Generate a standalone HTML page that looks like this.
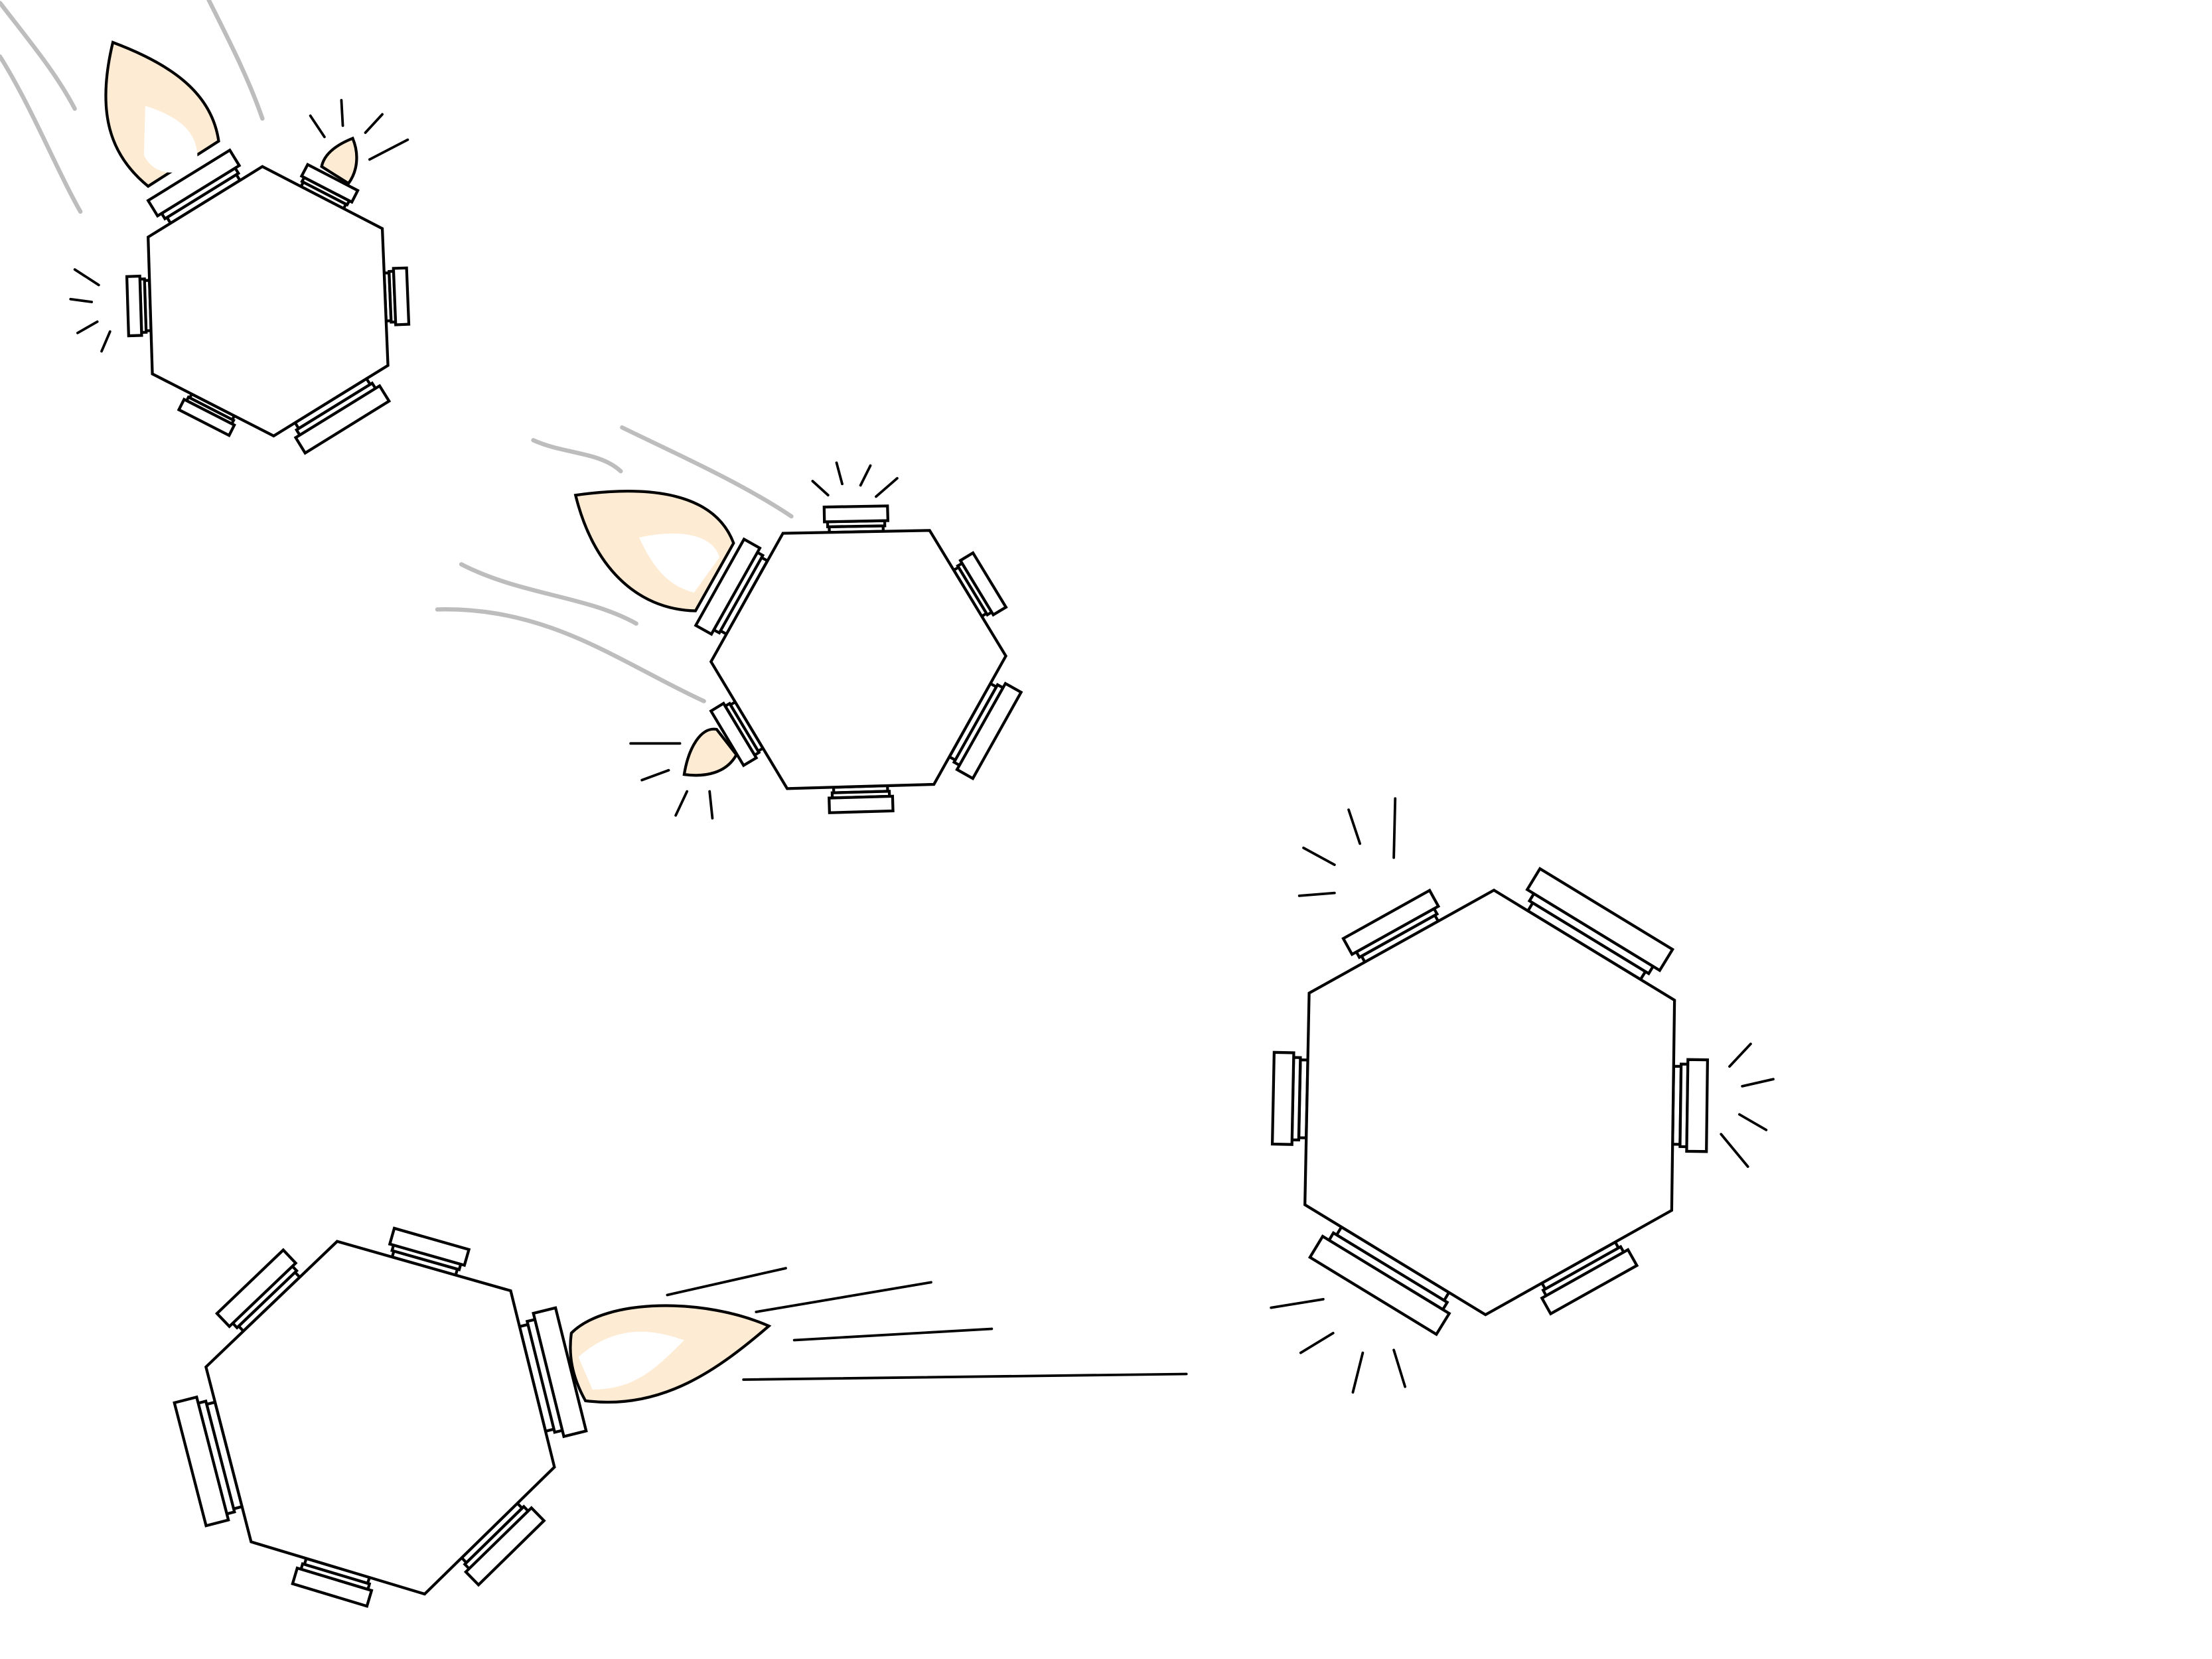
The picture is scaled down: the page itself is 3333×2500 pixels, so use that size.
<!DOCTYPE html>
<html><head><meta charset="utf-8">
<style>html,body{margin:0;padding:0;background:#fff;}svg{display:block;}</style>
</head><body>
<svg id="scene" width="3333" height="2500" viewBox="0 0 1568 1176" xmlns="http://www.w3.org/2000/svg">
<rect width="1568" height="1176" fill="#fff"/>
<g fill="none" stroke="#bdbdbd" stroke-width="3" stroke-linecap="round">
<path d="M0,2 C20,28 40,52 53,77"/>
<path d="M0,40 C22,75 40,120 57,150"/>
<path d="M148,0 C162,28 176,55 186,84"/>
<path d="M378,312 C400,322 425,320 440,334"/>
<path d="M441,303 C480,322 525,342 561,366"/>
<path d="M327,400 C370,422 415,422 451,442"/>
<path d="M310,432 C390,430 440,470 499,497"/>
</g>
<g stroke="#000" stroke-width="2">
<path fill="#fdebd3" d="M105,132 C78,110 68,80 80,30 C120,45 150,65 155,100 Z"/>
<path fill="#fff" stroke="none" d="M103,75 C125,82 140,92 140,112 C130,126 110,126 102,110 Z"/>
<path fill="#fdebd3" d="M228,118 C230,108 240,102 250,98 C255,110 253,122 247,130 Z"/>
<path fill="#fdebd3" d="M493,433 C450,432 420,400 408,351 C450,345 505,345 520,385 Z"/>
<path fill="#fff" stroke="none" d="M453,381 C480,375 505,378 510,395 L492,420 C472,415 462,400 453,381 Z"/>
<path fill="#fdebd3" d="M485,549 C488,530 497,515 508,517 L522,535 C515,548 500,551 485,549 Z"/>
<path fill="#fdebd3" d="M405,945 C430,920 500,920 545,940 C510,970 470,1000 415,993 C405,975 403,960 405,945 Z"/>
<path fill="#fff" stroke="none" d="M410,962 C440,935 470,945 485,950 C465,970 450,985 420,985 Z"/>
</g>
<g id="ships"></g>
<g stroke="#000" stroke-width="1.8" stroke-linecap="round">
<line x1="473" y1="918" x2="557" y2="899"/>
<line x1="536" y1="930" x2="660" y2="909"/>
<line x1="563" y1="950" x2="703" y2="942"/>
<line x1="527" y1="978" x2="841" y2="974"/>
<line x1="220" y1="82" x2="230" y2="97"/><line x1="242" y1="71" x2="243" y2="89"/>
<line x1="271" y1="81" x2="259" y2="94"/><line x1="289" y1="99" x2="262" y2="113"/>
<line x1="53" y1="191" x2="70" y2="202"/><line x1="50" y1="212" x2="65" y2="214"/>
<line x1="55" y1="236" x2="69" y2="228"/><line x1="72" y1="249" x2="78" y2="235"/>
<line x1="576" y1="341" x2="587" y2="351"/><line x1="593" y1="328" x2="597" y2="343"/>
<line x1="617" y1="330" x2="610" y2="344"/><line x1="636" y1="339" x2="621" y2="352"/>
<line x1="447" y1="527" x2="482" y2="527"/><line x1="455" y1="553" x2="474" y2="546"/>
<line x1="479" y1="578" x2="487" y2="561"/><line x1="505" y1="580" x2="503" y2="561"/>
<line x1="924" y1="601" x2="946" y2="613"/><line x1="956" y1="574" x2="964" y2="598"/>
<line x1="989" y1="566" x2="988" y2="608"/><line x1="921" y1="635" x2="946" y2="633"/>
<line x1="1241" y1="740" x2="1226" y2="756"/><line x1="1257" y1="765" x2="1235" y2="770"/>
<line x1="1233" y1="790" x2="1252" y2="801"/><line x1="1220" y1="804" x2="1239" y2="827"/>
<line x1="938" y1="921" x2="901" y2="927"/><line x1="945" y1="945" x2="922" y2="959"/>
<line x1="966" y1="959" x2="959" y2="987"/><line x1="988" y1="957" x2="996" y2="983"/>
</g>
</svg>
<script>
const hexVerts = [
  [[186,118],[271,162],[275,259],[194,309],[108,265],[105,168]],
  [[555,378],[659,376],[713,465],[662,556],[558,559],[504,469]],
  [[1059,631],[1187,709],[1185,858],[1053,932],[925,854],[928,704]],
  [[239,880],[362,915],[393,1040],[301,1130],[178,1093],[146,969]]
];
const thrusterLen = [
  [40,40,70,40,42,68],
  [45,45,70,45,45,70],
  [110,65,70,105,65,70],
  [55,90,65,55,90,65]
];
const thrusterDepth = [
  [16,16,22,14,16,22],
  [18,18,22,18,18,22],
  [30,24,22,30,24,22],
  [20,28,22,20,28,22]
];
const NS = 'http://www.w3.org/2000/svg';
const ships = document.getElementById('ships');
function poly(pts, parent){
  const p = document.createElementNS(NS,'polygon');
  p.setAttribute('points', pts.map(q=>q[0].toFixed(1)+','+q[1].toFixed(1)).join(' '));
  p.setAttribute('fill','#fff'); p.setAttribute('stroke','#000'); p.setAttribute('stroke-width','2');
  parent.appendChild(p); return p;
}
hexVerts.forEach((vs,h)=>{
  const g = document.createElementNS(NS,'g');
  
  
  ships.appendChild(g);
  const cx = vs.reduce((s,v)=>s+v[0],0)/6, cy = vs.reduce((s,v)=>s+v[1],0)/6;
  vs.forEach((a,i)=>{
    const b = vs[(i+1)%6];
    const mx=(a[0]+b[0])/2, my=(a[1]+b[1])/2;
    let ux=b[0]-a[0], uy=b[1]-a[1]; const l=Math.hypot(ux,uy); ux/=l; uy/=l;
    let nx=-uy, ny=ux; if((mx-cx)*nx+(my-cy)*ny<0){nx=-nx;ny=-ny;}
    const L=thrusterLen[h][i], D=thrusterDepth[h][i];
    const rect=(len,d0,d1)=>[
      [mx-ux*len/2+nx*d0, my-uy*len/2+ny*d0],[mx+ux*len/2+nx*d0, my+uy*len/2+ny*d0],
      [mx+ux*len/2+nx*d1, my+uy*len/2+ny*d1],[mx-ux*len/2+nx*d1, my-uy*len/2+ny*d1]];
    const t = document.createElementNS(NS,'g');
    
    
    g.appendChild(t);
    poly(rect(L*0.85,0,D*0.22),t);
    poly(rect(L*0.9,D*0.22,D*0.42),t);
    poly(rect(L,D*0.42,D),t);
  });
  const hp = poly(vs,g);
  
  
});
</script>
</body></html>
